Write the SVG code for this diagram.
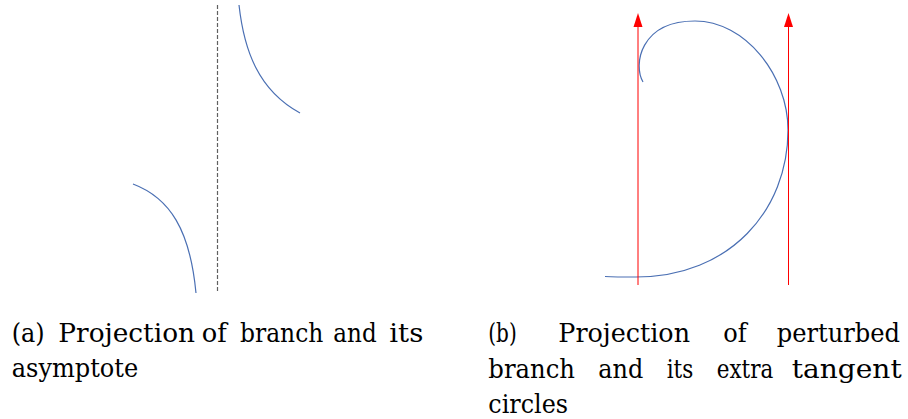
<svg xmlns="http://www.w3.org/2000/svg" width="908" height="419" viewBox="0 0 908 419">
<defs>
<style>
.curve{fill:none;stroke:#4a6fb3;stroke-width:1.2}
.asym{fill:none;stroke:#606060;stroke-width:1.2;stroke-dasharray:4,2}
.ray{fill:none;stroke:#ff0000;stroke-width:1}
.head{fill:#ff0000}
text{font-family:'DejaVu Serif','Liberation Serif',serif;font-size:26px;fill:#000}
</style>
</defs>
<rect width="908" height="419" fill="#fff"/>
<g id="panel-a">
  <g id="asymptote"><line class="asym" x1="217.5" y1="5" x2="217.5" y2="293"/></g>
  <g id="branch-upper"><path class="curve" d="M239,5 C244,50 258,90 300,113"/></g>
  <g id="branch-lower"><path class="curve" d="M133,184 C170,198 190,230 196,293"/></g>
</g>
<g id="panel-b">
  <g id="perturbed-branch"><path class="curve" d="M643,82 C633,65 640,21 695,21 C745,21 788,75 788,130 C788,210 730,277 636,277 C625,277 615,277 605,276.5"/></g>
  <g id="tangent-left"><line class="ray" x1="638" y1="285" x2="638" y2="25"/><polygon class="head" points="638,13 642.5,27 633.5,27"/></g>
  <g id="tangent-right"><line class="ray" x1="788.5" y1="285" x2="788.5" y2="25"/><polygon class="head" points="788.5,13 793,27 784,27"/></g>
</g>
<g id="caption-a">
  <text x="11.7" y="342" textLength="33" lengthAdjust="spacingAndGlyphs">(a)</text>
  <text x="58.3" y="342" textLength="136.7" lengthAdjust="spacingAndGlyphs">Projection</text>
  <text x="201.7" y="342" textLength="25" lengthAdjust="spacingAndGlyphs">of</text>
  <text x="240" y="342" textLength="83.3" lengthAdjust="spacingAndGlyphs">branch</text>
  <text x="333.3" y="342" textLength="43.4" lengthAdjust="spacingAndGlyphs">and</text>
  <text x="389.3" y="342" textLength="34" lengthAdjust="spacingAndGlyphs">its</text>
  <text x="11.7" y="377" textLength="126.6" lengthAdjust="spacingAndGlyphs">asymptote</text>
</g>
<g id="caption-b">
  <text x="488.3" y="342" textLength="28.4" lengthAdjust="spacingAndGlyphs">(b)</text>
  <text x="558.3" y="342" textLength="131.7" lengthAdjust="spacingAndGlyphs">Projection</text>
  <text x="723.3" y="342" textLength="23.4" lengthAdjust="spacingAndGlyphs">of</text>
  <text x="776.7" y="342" textLength="123.3" lengthAdjust="spacingAndGlyphs">perturbed</text>
  <text x="488.3" y="378" textLength="86.7" lengthAdjust="spacingAndGlyphs">branch</text>
  <text x="598.3" y="378" textLength="45" lengthAdjust="spacingAndGlyphs">and</text>
  <text x="666.7" y="378" textLength="26.6" lengthAdjust="spacingAndGlyphs">its</text>
  <text x="716.7" y="378" textLength="56.6" lengthAdjust="spacingAndGlyphs">extra</text>
  <text x="791.7" y="378" textLength="110" lengthAdjust="spacingAndGlyphs">tangent</text>
  <text x="488.3" y="413" textLength="79.7" lengthAdjust="spacingAndGlyphs">circles</text>
</g>
</svg>
